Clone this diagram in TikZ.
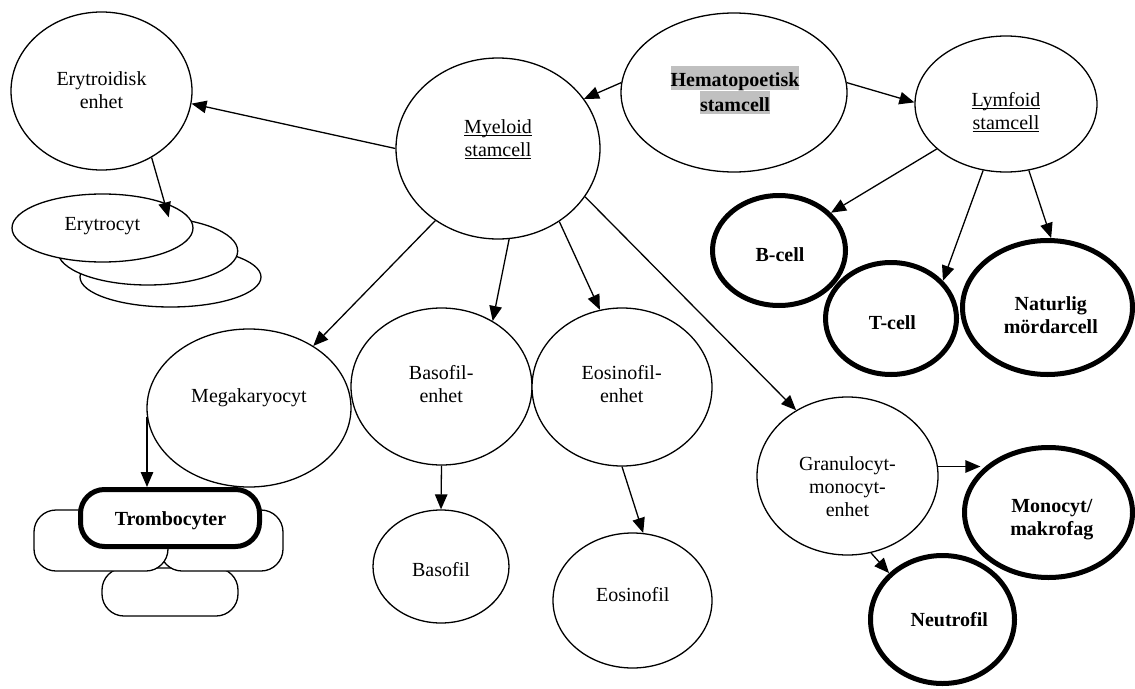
\documentclass[tikz,border=0pt]{standalone}
\usepackage{fontspec}
\setmainfont{Liberation Serif}
\usetikzlibrary{shapes.geometric,arrows.meta}
\definecolor{hl}{RGB}{192,192,192}
\setlength{\fboxsep}{0pt}
\newcommand\mystrut{\rule[-5pt]{0pt}{19.5pt}}
\newcommand\hlstrut{\rule[-3pt]{0pt}{23pt}}
\newcommand\myul[1]{\setbox0\hbox{#1}\rlap{\rule[-2.8pt]{\wd0}{1pt}}\box0}
\begin{document}
\begin{tikzpicture}[x=1pt,y=-1pt,
  sz/.style 2 args={minimum width=#1pt, minimum height=#2pt},
  cell/.style={ellipse, draw, line width=1.3pt, fill=white, inner sep=0pt},
  boldcell/.style={ellipse, draw, line width=5pt, fill=white, inner sep=0pt},
  pill/.style={rectangle, draw, line width=1.3pt, fill=white, rounded corners=22pt, inner sep=0pt},
  boldpill/.style={rectangle, draw, line width=5pt, fill=white, rounded corners=24pt, inner sep=0pt},
  lbl/.style={font=\fontsize{20pt}{23pt}\selectfont, align=center, inner sep=0pt},
  blbl/.style={lbl, font=\fontsize{20pt}{23pt}\selectfont\bfseries},
  arr/.style={line width=1.3pt, -{Triangle[length=15pt,width=12.5pt]}}
]
\useasboundingbox (0,0) rectangle (1135,688);

% erythroid branch
\node[cell, sz={181}{158}] (ery) at (101.5,91) {};
\node[cell, sz={181}{60}] (erc3) at (170.5,277) {};
\node[cell, sz={180}{68}] (erc2) at (147.7,251) {};
\node[cell, sz={181}{68}] (erc1) at (102.5,228) {};

% stem cells
\node[cell, sz={204}{181}] (mye) at (498,148.5) {};
\node[cell, sz={226}{159}] (hem) at (734,92.5) {};
\node[cell, sz={182}{136}] (lym) at (1006,104) {};

% lymphoid products
\node[boldcell, sz={133}{110}] (bcell) at (779,250.5) {};
\node[boldcell, sz={131}{112}] (tcell) at (891,318.5) {};
\node[boldcell, sz={170}{134}] (nk) at (1047.5,307.5) {};

% megakaryocyte branch
\node[cell, sz={204}{158}] (mega) at (249,408) {};
\node[pill, sz={136}{48}] (pbot) at (170,592) {};
\node[pill, sz={123}{61}] (pright) at (221.5,540.5) {};
\node[pill, sz={134}{61}] (pleft) at (101,540.5) {};
\node[boldpill, sz={179}{57}] (trombo) at (170,518) {};

% granulocyte branches
\node[cell, sz={181}{157}] (basoe) at (441.5,386.5) {};
\node[cell, sz={180}{158}] (eose) at (622,387) {};
\node[cell, sz={136}{113}] (baso) at (441,566.5) {};
\node[cell, sz={159}{135}] (eos) at (632.5,600.5) {};
\node[cell, sz={181}{158}] (gran) at (847.5,476) {};
\node[boldcell, sz={168}{130}] (mono) at (1048.5,512.5) {};
\node[boldcell, sz={144}{128}] (neut) at (942.5,619.5) {};

% labels
\node[lbl] (t-ery) at (101.5,91.75) {\mystrut Erytroidisk\\\mystrut enhet};
\node[lbl] (t-erc) at (102.5,225.25) {\mystrut Erytrocyt};
\node[lbl] (t-mye) at (498,140.25) {\mystrut\myul{Myeloid}\\\mystrut\myul{stamcell}};
\node[blbl] (t-hem) at (735,90.3)
  {\colorbox{hl}{\hlstrut Hematopoetisk}\\\colorbox{hl}{\hlstrut stamcell}};
\node[lbl] (t-lym) at (1006,112.75) {\mystrut\myul{Lymfoid}\\\mystrut\myul{stamcell}};
\node[blbl] (t-b) at (780,256.25) {\mystrut B-cell};
\node[blbl] (t-t) at (892.5,324.5) {\mystrut T-cell};
\node[blbl] (t-nk) at (1050.8,317.5) {\mystrut Naturlig\\\mystrut mördarcell};
\node[lbl] (t-mega) at (249,398) {\mystrut Megakaryocyt};
\node[blbl] (t-trombo) at (170.5,520.25) {\mystrut Trombocyter};
\node[lbl] (t-basoe) at (441.2,386) {\mystrut Basofil-\\\mystrut enhet};
\node[lbl] (t-eose) at (621.7,386) {\mystrut Eosinofil-\\\mystrut enhet};
\node[lbl] (t-baso) at (441,571.25) {\mystrut Basofil};
\node[lbl] (t-eos) at (632.7,597) {\mystrut Eosinofil};
\node[lbl] (t-gran) at (847.5,489) {\mystrut Granulocyt-\\\mystrut monocyt-\\\mystrut enhet};
\node[blbl] (t-mono) at (1051.8,519) {\mystrut Monocyt/\\\mystrut makrofag};
\node[blbl] (t-neut) at (949.3,621.25) {\mystrut Neutrofil};

% connectors
\draw[arr] (mye.180) -- (ery.-8.7);
\draw[arr] (ery.-53.9) -- (erc2.58.8);
\draw[arr] (hem.175) -- (mye.30);
\draw[arr] (hem.5.6) -- (lym.179);
\draw[arr] (lym.213.7) -- (bcell.36.7);
\draw[arr] (lym.251.1) -- (tcell.36.1);
\draw[arr] (lym.-71.6) -- (nk.87.5);
\draw[arr] (mye.229.6) -- (mega.44);
\draw[arr] (mye.-83.7) -- (basoe.52.1);
\draw[arr] (mye.-50.6) -- (eose.106.7);
\draw[arr] (mye.-29.7) -- (gran.128.7);
\draw[arr] (mega.185.7) -- (mega.185.7 |- trombo.north);
\draw[arr] (basoe.south) -- (baso.north);
\draw[arr] (eose.south) -- (eos.81.2);
\draw[arr, shorten >=7pt] (gran.6.9) -- (gran.6.9 -| mono.142.5);
\draw[arr] (gran.-73.4) -- (neut.139.8);
\end{tikzpicture}
\end{document}
